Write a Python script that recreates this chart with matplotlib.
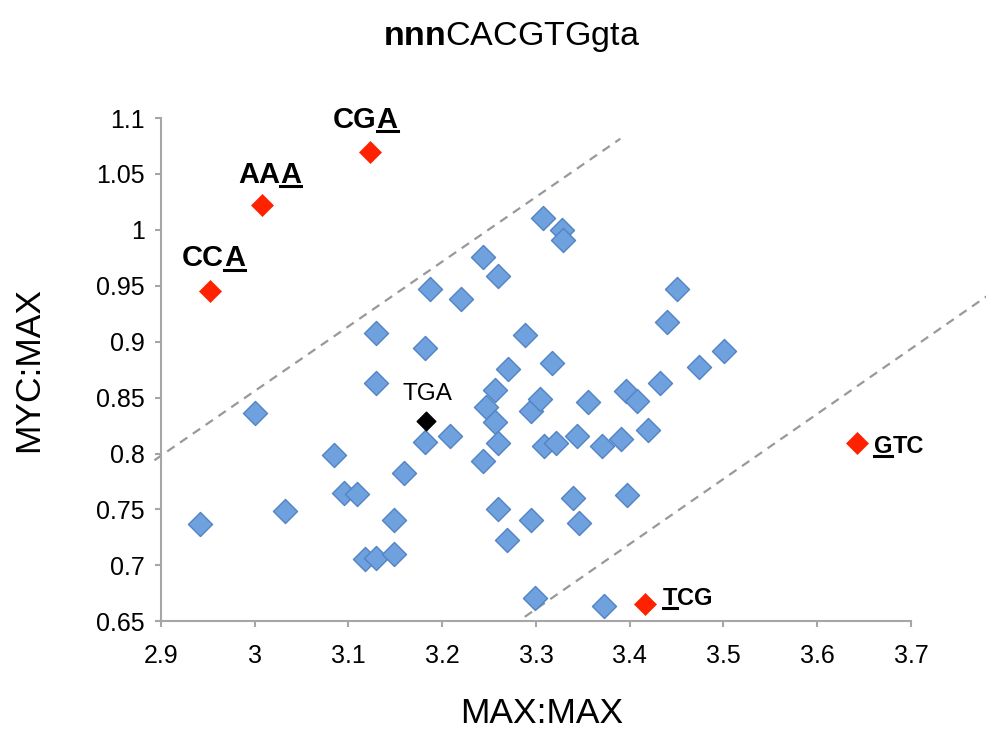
import matplotlib
matplotlib.use("Agg")
import matplotlib.pyplot as plt
from matplotlib.lines import Line2D

plt.rcParams['font.family'] = ['Liberation Sans', 'DejaVu Sans']
plt.rcParams['mathtext.fontset'] = 'custom'
plt.rcParams['mathtext.rm'] = 'Liberation Sans'
plt.rcParams['mathtext.bf'] = 'Liberation Sans:bold'

# blue: all other nnn codons
blue_x = [2.942, 3.000, 3.032, 3.085, 3.095, 3.109, 3.118, 3.129, 3.149, 3.149,
          3.159, 3.129, 3.129, 3.182, 3.187, 3.182, 3.208, 3.220, 3.244, 3.259,
          3.244, 3.247, 3.256, 3.256, 3.260, 3.259, 3.269, 3.270, 3.288, 3.295,
          3.304, 3.295, 3.299, 3.307, 3.328, 3.329, 3.317, 3.309, 3.321, 3.344,
          3.356, 3.339, 3.346, 3.373, 3.370, 3.391, 3.396, 3.408, 3.397, 3.420,
          3.432, 3.440, 3.450, 3.474, 3.501]
blue_y = [0.737, 0.836, 0.749, 0.799, 0.765, 0.764, 0.706, 0.707, 0.710, 0.741,
          0.783, 0.908, 0.863, 0.894, 0.947, 0.810, 0.816, 0.938, 0.976, 0.959,
          0.793, 0.842, 0.857, 0.828, 0.809, 0.750, 0.723, 0.876, 0.906, 0.838,
          0.849, 0.741, 0.671, 1.011, 1.000, 0.991, 0.881, 0.807, 0.809, 0.816,
          0.846, 0.760, 0.738, 0.664, 0.807, 0.813, 0.856, 0.847, 0.763, 0.821,
          0.863, 0.918, 0.947, 0.877, 0.892]

# red outliers
red_names = ['CGA', 'AAA', 'CCA', 'GTC', 'TCG']
red_x = [3.123, 3.008, 2.952, 3.642, 3.416]
red_y = [1.070, 1.022, 0.9455, 0.809, 0.6654]
red_underline = [2, 2, 2, 0, 0]   # index of underlined letter

tga_x, tga_y = 3.183, 0.829

# dashed guide lines
upper_x = [2.893, 3.390]
upper_y = [0.794, 1.0815]
lower_x = [3.288, 3.79]
lower_y = [0.654, 0.946]

fig = plt.figure(figsize=(9.87, 7.45), dpi=100)
ax = fig.add_axes([0.1631, 0.166, 0.7599, 0.6756])

ax.plot(upper_x, upper_y, ls=(0, (4, 3)), color='#999999', lw=1.6, clip_on=False, zorder=1)
ax.plot(lower_x, lower_y, ls=(0, (4, 3)), color='#999999', lw=1.6, clip_on=False, zorder=1)

ax.scatter(blue_x, blue_y, marker='D', s=150, facecolor='#6EA1DD', edgecolor='#5283C4',
           linewidth=1, zorder=3)
ax.scatter(red_x, red_y, marker='D', s=125, facecolor='#FF2200', edgecolor='#FF2200',
           linewidth=0.5, zorder=4)
ax.scatter([tga_x], [tga_y], marker='D', s=90, facecolor='black', edgecolor='black', zorder=4)

ax.set_xlim(2.9, 3.7)
ax.set_ylim(0.65, 1.1)
ax.set_xticks([2.9, 3.0, 3.1, 3.2, 3.3, 3.4, 3.5, 3.6, 3.7])
ax.set_xticklabels(['2.9', '3', '3.1', '3.2', '3.3', '3.4', '3.5', '3.6', '3.7'])
ax.set_yticks([0.65, 0.7, 0.75, 0.8, 0.85, 0.9, 0.95, 1.0, 1.05, 1.1])
ax.set_yticklabels(['0.65', '0.7', '0.75', '0.8', '0.85', '0.9', '0.95', '1', '1.05', '1.1'])

for s in ['top', 'right']:
    ax.spines[s].set_visible(False)
for s in ['left', 'bottom']:
    ax.spines[s].set_color('#A6A6A6')
    ax.spines[s].set_linewidth(1.5)
ax.tick_params(axis='both', direction='out', length=4.5, width=1.5, color='#A6A6A6',
               labelsize=18)
ax.tick_params(axis='x', pad=12)
ax.tick_params(axis='y', pad=7)

ax.set_xlabel('MAX:MAX', fontsize=25.5)
ax.xaxis.set_label_coords(0.507, -0.15)
ax.set_ylabel('MYC:MAX', fontsize=25.5)
ax.yaxis.set_label_coords(-0.155, 0.5)

fig.text(0.518, 0.9396, r'$\mathbf{nnn}$CACGTGgta', fontsize=24.5, ha='center', va='baseline')

# codon labels (left x, baseline y, size)
label_x = [3.0835, 2.982, 2.9224, 3.6605, 3.4355]
label_y = [1.0913, 1.0422, 0.9673, 0.8005, 0.6646]
label_size = [21, 21, 21, 17, 17]

under = []
for name, lx, ly, sz, ui in zip(red_names, label_x, label_y, label_size, red_underline):
    pieces = [name[:ui], name[ui], name[ui + 1:]]
    prev = None
    for k, p in enumerate(pieces):
        if p == '':
            continue
        kw = dict(fontsize=sz, fontweight='bold', ha='left')
        if prev is None:
            t = ax.text(lx, ly, p, va='baseline', **kw)
        else:
            t = ax.annotate(p, xy=(1, 0), xycoords=prev, va='bottom', **kw)
        if k == 1:
            under.append((t, sz))
        prev = t

ax.text(3.184, 0.8476, 'TGA', fontsize=17.5, ha='center', va='baseline')

fig.canvas.draw()
r = fig.canvas.get_renderer()
inv = fig.transFigure.inverted()
for t, sz in under:
    bb = t.get_window_extent(r)
    em = sz / 72 * fig.dpi
    yb = bb.y0 + 0.212 * em - 0.12 * em
    (x0, y0), (x1, _) = inv.transform([(bb.x0, yb), (bb.x1, yb)])
    fig.add_artist(Line2D([x0, x1], [y0, y0], color='black', lw=2.2))

fig.savefig('out.png', dpi=100)
